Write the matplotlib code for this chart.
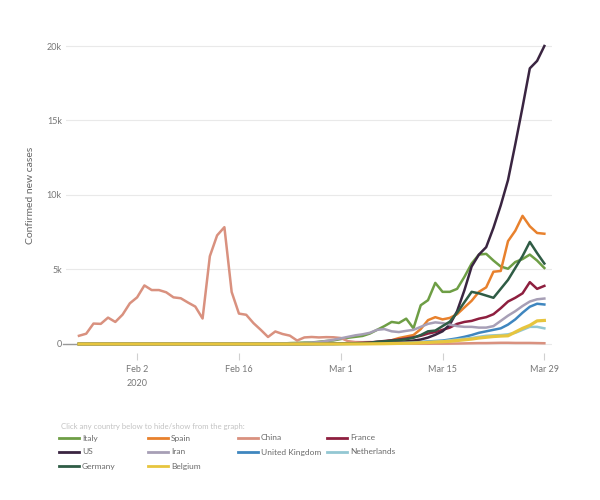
import matplotlib
matplotlib.use("Agg")
import matplotlib.pyplot as plt
import matplotlib.dates as mdates
from matplotlib.lines import Line2D
import pandas as pd

plt.rcParams['font.family'] = ['Lato', 'DejaVu Sans']

# ---------------- data (Jan 25 .. Mar 29, 2020) ----------------
dates = pd.date_range("2020-01-25", "2020-03-29", freq="D")

china = [550, 690, 1370, 1350, 1770, 1480, 1970,
         2730, 3130, 3930, 3620, 3620, 3470, 3130, 3070, 2780, 2510,
         1710, 5890, 7290, 7840, 3490, 2040, 1960, 1400, 950, 470,
         840, 670, 560, 230, 440, 470, 440, 460, 450,
         400, 190, 130, 120, 130, 110, 80, 50, 35, 25,
         20, 15, 15, 20, 20, 25, 30, 40, 50, 60,
         60, 70, 80, 80, 70, 70, 70, 60, 50]

italy = [0, 0, 0, 0, 0, 0, 0,
         0, 0, 0, 0, 0, 0, 0, 0, 0, 0,
         0, 0, 0, 0, 0, 0, 0, 0, 0, 0,
         10, 30, 60, 75, 95, 100, 150, 200, 240,
         330, 420, 480, 540, 700, 950, 1200, 1480, 1410, 1700,
         1050, 2600, 2940, 4100, 3500, 3500, 3700, 4500, 5400, 6000,
         6050, 5600, 5200, 5050, 5500, 5700, 6000, 5600, 5100]

spain = [0, 0, 0, 0, 0, 0, 0,
         0, 0, 0, 0, 0, 0, 0, 0, 0, 0,
         0, 0, 0, 0, 0, 0, 0, 0, 0, 0,
         0, 0, 0, 0, 2, 5, 8, 10, 15,
         20, 30, 40, 50, 70, 100, 150, 250, 400, 500,
         600, 1000, 1600, 1800, 1650, 1750, 2000, 2450, 2900, 3500,
         3800, 4850, 4900, 6900, 7600, 8600, 7900, 7450, 7400]

france = [0, 0, 0, 0, 0, 0, 0,
          0, 0, 0, 0, 0, 0, 0, 0, 0, 0,
          0, 0, 0, 0, 0, 0, 0, 0, 0, 0,
          0, 0, 0, 0, 2, 5, 10, 15, 20,
          30, 40, 50, 70, 100, 150, 200, 250, 300, 370,
          450, 550, 700, 800, 950, 1100, 1350, 1480, 1550, 1700,
          1800, 2000, 2400, 2850, 3100, 3400, 4150, 3700, 3900]

us = [0, 0, 0, 0, 0, 0, 0,
      0, 0, 0, 0, 0, 0, 0, 0, 0, 0,
      0, 0, 0, 0, 0, 0, 0, 0, 0, 0,
      0, 0, 0, 0, 0, 0, 0, 0, 0,
      10, 15, 20, 30, 40, 60, 80, 100, 130, 180,
      230, 300, 430, 620, 850, 1300, 2200, 3600, 5200, 6000,
      6500, 7800, 9300, 11000, 13400, 15900, 18500, 19000, 20000]

iran = [0, 0, 0, 0, 0, 0, 0,
        0, 0, 0, 0, 0, 0, 0, 0, 0, 0,
        0, 0, 0, 0, 0, 0, 0, 0, 0, 5,
        10, 15, 25, 40, 60, 90, 130, 200, 280,
        380, 480, 580, 650, 750, 950, 1000, 850, 800, 880,
        950, 1150, 1350, 1450, 1400, 1300, 1200, 1150, 1150, 1100,
        1100, 1200, 1550, 1900, 2200, 2550, 2850, 3000, 3050]

uk = [0, 0, 0, 0, 0, 0, 0,
      0, 0, 0, 0, 0, 0, 0, 0, 0, 0,
      0, 0, 0, 0, 0, 0, 0, 0, 0, 0,
      0, 0, 0, 0, 0, 0, 0, 0, 0,
      5, 10, 15, 20, 30, 40, 50, 60, 70, 80,
      100, 130, 170, 200, 230, 300, 380, 480, 600, 750,
      850, 950, 1050, 1300, 1650, 2100, 2500, 2700, 2650]

netherlands = [0, 0, 0, 0, 0, 0, 0,
               0, 0, 0, 0, 0, 0, 0, 0, 0, 0,
               0, 0, 0, 0, 0, 0, 0, 0, 0, 0,
               0, 0, 0, 0, 0, 0, 0, 0, 0,
               2, 3, 5, 10, 15, 20, 30, 40, 50, 60,
               80, 110, 150, 170, 190, 250, 300, 350, 400, 480,
               550, 580, 600, 650, 750, 950, 1150, 1150, 1050]

germany = [0, 0, 0, 0, 0, 0, 0,
           0, 0, 0, 0, 0, 0, 0, 0, 0, 0,
           0, 0, 0, 0, 0, 0, 0, 0, 0, 0,
           0, 0, 0, 0, 2, 5, 10, 15, 20,
           30, 40, 50, 60, 80, 150, 180, 220, 260, 320,
           420, 600, 850, 900, 1200, 1500, 2100, 2800, 3500, 3400,
           3250, 3100, 3700, 4300, 5100, 5900, 6850, 6100, 5400]

belgium = [0, 0, 0, 0, 0, 0, 0,
           0, 0, 0, 0, 0, 0, 0, 0, 0, 0,
           0, 0, 0, 0, 0, 0, 0, 0, 0, 0,
           0, 0, 0, 0, 0, 0, 0, 0, 0,
           1, 2, 3, 5, 10, 15, 20, 30, 40, 50,
           60, 80, 100, 130, 150, 180, 230, 280, 330, 400,
           450, 500, 530, 550, 800, 1050, 1250, 1550, 1580]

countries = ["Italy", "Spain", "China", "France", "US", "Iran",
             "United Kingdom", "Netherlands", "Germany", "Belgium"]
series = [italy, spain, china, france, us, iran, uk, netherlands, germany, belgium]
colors = ["#6e9e45", "#e8812d", "#d9917f", "#8e1f3f", "#3a2541", "#a79fb6",
          "#3f86bf", "#93c7d3", "#2f5c45", "#e7c53e"]

tick_dates = ["2020-02-02", "2020-02-16", "2020-03-01", "2020-03-15", "2020-03-29"]
tick_labels = ["Feb 2\n2020", "Feb 16", "Mar 1", "Mar 15", "Mar 29"]
y_ticks = [0, 5000, 10000, 15000, 20000]
y_labels = ["0", "5k", "10k", "15k", "20k"]

# ---------------- figure ----------------
fig = plt.figure(figsize=(6, 5), dpi=100)
fig.patch.set_facecolor("white")
ax = fig.add_axes([66 / 600, 1 - 353 / 500, 486 / 600, 313 / 500])

for name, vals, c in zip(countries, series, colors):
    lw = 2.3 if name == "Belgium" else 1.8
    ax.plot(dates, vals, color=c, lw=lw, solid_joinstyle="round", label=name, zorder=3)

x0 = mdates.date2num(pd.Timestamp("2020-01-25"))
x1 = mdates.date2num(pd.Timestamp("2020-03-29"))
ax.set_xlim(x0 - 1.78, x1 + 1.05)
ax.set_ylim(-605, 20403)

ax.set_yticks(y_ticks)
ax.set_yticklabels(y_labels)
ax.set_xticks([mdates.date2num(pd.Timestamp(d)) for d in tick_dates])
ax.set_xticklabels(tick_labels, linespacing=1.6)
ax.tick_params(axis="y", length=0, pad=3, labelsize=6.5, labelcolor="#777777")
ax.tick_params(axis="x", length=5, width=0.8, color="#d0d0d0", pad=4,
               labelsize=6.5, labelcolor="#777777")
for xtl in ax.get_xticklabels():
    xtl.set_verticalalignment("top")

for s in ax.spines.values():
    s.set_visible(False)
ax.grid(axis="y", color="#e9e9e9", lw=0.8, zorder=0)
ax.set_axisbelow(True)
ax.axhline(0, xmin=-0.007, xmax=0.03, color="#999999", lw=1.0, zorder=2, clip_on=False)

ax.set_ylabel("Confirmed new cases", fontsize=7.5, color="#666666")
ax.yaxis.set_label_coords(-0.064, 0.505)

# ---------------- legend (laid out like the reference) ----------------
fig.text(61 / 600, 1 - 427 / 500, "Click any country below to hide/show from the graph:",
         fontsize=5.6, color="#c2c2c2", va="center", ha="left")
col_x = [59, 148, 238, 327]
row_y = [438, 452, 466]
for i, (name, c) in enumerate(zip(countries, colors)):
    r, k = divmod(i, 4)
    yy = 1 - row_y[r] / 500
    xs = col_x[k] / 600
    fig.add_artist(Line2D([xs, xs + 20 / 600], [yy, yy], color=c, lw=2.0,
                          transform=fig.transFigure))
    fig.text(xs + 23 / 600, yy, name, fontsize=6.0, color="#6a6a6a", va="center", ha="left")

fig.savefig("out.png", dpi=100, facecolor="white")
